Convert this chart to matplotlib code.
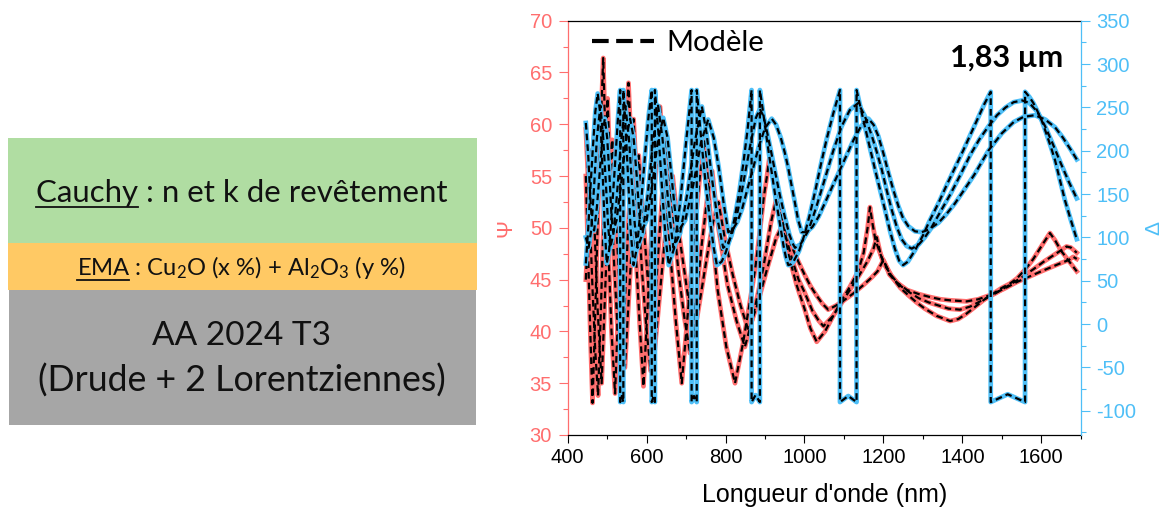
import matplotlib
matplotlib.use("Agg")
import matplotlib.pyplot as plt
from matplotlib.lines import Line2D
from matplotlib.patches import Rectangle
from matplotlib.ticker import MultipleLocator

plt.rcParams['font.family'] = ['Liberation Sans', 'DejaVu Sans']
plt.rcParams['axes.unicode_minus'] = False
plt.rcParams['mathtext.fontset'] = 'custom'
plt.rcParams['mathtext.rm'] = 'Lato'
plt.rcParams['mathtext.it'] = 'Lato:italic'
plt.rcParams['mathtext.bf'] = 'Lato:bold'

# ---------------- data ----------------
psi1_nm = [446,452,458,463,470,477,484,490,496,503,511,520,528,537,546,554,563,572,582,592,
           602,613,624,634,646,659,674,689,705,720,735,748,762,780,802,824,845,860,875,888,
           897,905,912,930,945,959,980,1000,1015,1031,1052,1073,1094,1115,1136,1150,1160,1166,1172,1180,
           1195,1221,1243,1263,1284,1305,1335,1369,1390,1410,1430,1453,1476,1500,1520,1538,1560,1580,1600,1622,
           1635,1650,1670,1690]
psi1 = [55,47,39,33.1,42,52,60,66.4,58,48,40,34.0,42,51,58,64.0,56,48,41,34.7,
        42,50,56,61.7,55,48,41,35.0,42,49,55,58.5,51,44,38.5,35.0,39,42.5,46,50,
        53,55,57.0,53,50,47.5,44.5,42.2,40.3,39.0,40.0,41.5,43.0,44.3,45.8,47.6,50.0,52.0,50.5,48.8,
        47.2,45.3,44.2,43.5,42.8,42.2,41.5,41.0,41.2,41.7,42.3,43.0,43.6,44.2,44.6,45.1,46.0,47.0,48.2,49.5,
        48.8,47.8,46.8,45.8]

psi2_nm = [446,455,463,470,477,484,491,496,501,508,517,526,535,544,552,560,567,577,588,599,
           610,620,631,641,651,665,680,695,710,725,740,754,766,782,805,828,849,870,895,915,
           930,950,970,985,1000,1020,1035,1048,1070,1090,1115,1140,1160,1175,1183,1192,1200,1220,1240,1265,
           1290,1315,1340,1365,1394,1420,1450,1485,1520,1550,1580,1605,1625,1645,1664,1675,1690]
psi2 = [59.5,52,44,38,33.8,42,51,57,62.5,55,47,40.5,35.0,42,49,55,60.5,53,46,40.5,
        36.2,42,48.5,54,58.5,52,46,41.5,37.9,43,48.5,53,55.5,50,44.5,41,38.5,41.5,46,50.5,
        53.0,49.5,46.8,45,43.8,42,41.1,40.5,41.4,42.5,44.0,45.5,46.8,48.0,49.1,47.6,46.6,45.4,44.5,43.8,
        43.2,42.8,42.5,42.2,42.1,42.4,43.0,43.7,44.5,45.2,46.0,46.7,47.2,47.7,48.2,48.1,47.6]

psi3_nm = [446,454,461,468,476,486,493,500,507,513,521,529,537,545,553,562,571,580,591,602,
           611,620,632,644,655,666,680,695,708,720,735,752,768,782,798,818,838,858,880,905,
           928,947,970,985,1000,1015,1030,1045,1060,1080,1100,1125,1150,1170,1185,1200,1208,1215,1235,1260,
           1290,1320,1345,1370,1411,1440,1470,1505,1540,1570,1600,1625,1650,1670,1681,1690]
psi3 = [45,52,57.5,50,42,35.0,42,49,55,58.5,52,46,40.5,36.5,42,48,53,57.0,51,45.5,
        41.5,38.0,43,48,52,55.0,50,46,42.5,39.5,43,47,50.5,52.5,49,45.5,42.5,40.1,42.5,46,
        49,50.5,48,46.7,45.5,44.4,43.5,42.7,42.1,42.5,43.0,43.7,44.5,45.2,45.8,46.9,46.2,45.5,44.7,44.0,
        43.6,43.3,43.1,43.0,42.9,43.1,43.5,44.1,44.8,45.3,45.8,46.2,46.6,46.9,47.2,47.0]

delta1_nm = [446,452,458,464,470,476,482,488,494,499,505,512,520,527,533,533,537,541,541,547,
             554,560,567,576,586,596,605,613,613,617,621,621,630,640,648,656,670,685,700,714,
             714,720,727,727,738,750,762,770,778,790,800,811,822,834,845,856,866,866,876,887,
             887,895,902,910,918,927,937,947,953,959,966,972,986,1000,1014,1028,1042,1056,1073,1090,
             1090,1111,1132,1132,1142,1153,1166,1179,1192,1204,1217,1229,1240,1250,1262,1280,1300,1318,1340,1360,
             1381,1402,1420,1440,1456,1472,1472,1515,1559,1559,1570,1580,1590,1601,1612,1624,1635,1648,1660,1675,
             1690]
delta1 = [70,110,160,205,245,266,245,180,110,70,85,130,185,235,270,-90,-83,-90,270,225,
          160,105,68,90,140,195,240,270,-90,-84,-90,270,220,150,100,68,88,140,210,270,
          -90,-83,-90,270,215,160,115,88,68,72,82,98,120,150,185,225,270,-90,-82,-90,
          270,245,222,196,172,145,118,90,77,68,69,72,84,103,127,155,185,213,243,270,
          -90,-83,-90,270,250,228,203,178,154,132,107,87,73,68,72,85,102,120,140,160,
          180,200,218,238,254,268,-90,-81,-90,268,262,255,246,235,221,205,189,165,143,120,
          98]

delta2_nm = [446,453,460,467,474,483,490,497,503,508,516,525,535,546,555,563,570,577,590,603,
             616,629,640,650,659,668,685,703,722,740,752,765,780,794,805,815,827,840,852,865,
             877,887,896,905,915,925,937,950,962,970,976,990,1010,1030,1052,1073,1094,1115,1136,1153,
             1170,1183,1196,1208,1221,1234,1246,1259,1272,1290,1305,1320,1345,1370,1395,1420,1443,1466,1488,1510,
             1530,1552,1570,1590,1610,1630,1650,1670,1690]
delta2 = [100,88,110,160,215,252,215,160,110,88,105,150,210,252,215,160,115,88,105,150,
          210,252,215,165,120,88,105,150,210,251,220,170,120,88,92,102,122,150,180,212,
          238,248,240,222,200,177,150,124,103,93,88,92,108,135,168,200,228,247,255,240,
          218,199,178,155,132,112,98,90,87,92,100,110,130,150,172,195,213,228,241,250,
          256,258,255,245,228,207,185,164,145]

delta3_nm = [446,452,457,462,467,474,482,489,494,500,506,511,515,524,535,547,558,567,575,581,
             586,600,614,628,642,653,662,671,679,698,718,738,756,770,783,795,807,818,830,842,
             855,870,885,900,917,928,940,950,958,966,975,984,993,1005,1020,1036,1052,1070,1090,1107,
             1125,1143,1162,1175,1187,1200,1212,1225,1238,1250,1263,1280,1297,1315,1340,1360,1381,1405,1430,1466,
             1500,1530,1555,1584,1610,1635,1655,1675,1690]
delta3 = [232,195,150,112,108,135,180,220,237,215,170,125,106,120,160,210,237,215,170,130,
          106,120,160,210,238,215,175,135,106,120,160,210,236,215,180,140,106,109,118,133,
          155,180,206,226,237,230,215,198,182,163,142,120,106,106,112,124,140,158,178,195,
          213,228,237,230,217,197,176,155,136,122,113,107,106,109,117,127,139,155,172,200,
          220,233,239,241,236,227,215,201,190]

x_ticks = [400, 600, 800, 1000, 1200, 1400, 1600]
psi_ticks = [30, 35, 40, 45, 50, 55, 60, 65, 70]
delta_ticks = [-100, -50, 0, 50, 100, 150, 200, 250, 300, 350]

layers = ["Cauchy : n et k de revêtement",
          "EMA : Cu$_\\mathregular{2}$O (x %) + Al$_\\mathregular{2}$O$_\\mathregular{3}$ (y %)",
          "AA 2024 T3",
          "(Drude + 2 Lorentziennes)"]

# ---------------- style ----------------
RED = '#FF6E6E'
BLUE = '#4EBFF7'
W, H = 1168, 512

fig = plt.figure(figsize=(W/100, H/100), dpi=100)

def fx(p):
    return p / W

def fy(p):
    return 1 - p / H

ax1 = fig.add_axes([fx(567.7), fy(435), fx(1080.7) - fx(567.7), fy(20.7) - fy(435)])
ax2 = ax1.twinx()

for nm, v in [(psi1_nm, psi1), (psi2_nm, psi2), (psi3_nm, psi3)]:
    ax1.plot(nm, v, color=RED, lw=3.4, solid_joinstyle='round', zorder=2)
for nm, v in [(psi1_nm, psi1), (psi2_nm, psi2), (psi3_nm, psi3)]:
    ax1.plot(nm, v, color='black', lw=1.6, dashes=(3, 1.8), zorder=3)
for nm, v in [(delta1_nm, delta1), (delta2_nm, delta2), (delta3_nm, delta3)]:
    ax2.plot(nm, v, color=BLUE, lw=3.4, solid_joinstyle='round', zorder=2)
for nm, v in [(delta1_nm, delta1), (delta2_nm, delta2), (delta3_nm, delta3)]:
    ax2.plot(nm, v, color='black', lw=1.6, dashes=(3, 1.8), zorder=3)

ax1.set_xlim(400, 1700)
ax1.set_ylim(30, 70)
ax2.set_ylim(-128, 350)
ax1.set_xticks(x_ticks)
ax1.xaxis.set_minor_locator(MultipleLocator(100))
ax1.set_yticks(psi_ticks)
ax1.yaxis.set_minor_locator(MultipleLocator(2.5))
ax2.set_yticks(delta_ticks)
ax2.yaxis.set_minor_locator(MultipleLocator(25))

TF = 14.5
ax1.tick_params(axis='x', which='major', direction='out', length=5.5, width=0.8, labelsize=TF, pad=4)
ax1.tick_params(axis='x', which='minor', direction='out', length=2.8, width=0.8)
ax1.tick_params(axis='y', which='major', direction='out', length=6.8, width=0.8, labelsize=TF, pad=4.5,
                colors=RED)
ax1.tick_params(axis='y', which='minor', direction='out', length=3.6, width=0.8, colors=RED)
ax2.tick_params(axis='y', which='major', direction='out', length=6.8, width=0.8, labelsize=TF, pad=4.5,
                colors=BLUE)
ax2.tick_params(axis='y', which='minor', direction='out', length=3.6, width=0.8, colors=BLUE)

ax1.spines['left'].set_color(RED)
ax1.spines['right'].set_visible(False)
ax2.spines['left'].set_visible(False)
ax2.spines['top'].set_visible(False)
ax2.spines['bottom'].set_visible(False)
ax2.spines['right'].set_color(BLUE)
for s in ax1.spines.values():
    s.set_linewidth(0.9)
ax2.spines['right'].set_linewidth(0.9)

ax1.set_xlabel("Longueur d'onde (nm)", fontsize=18)
ax1.xaxis.set_label_coords(0.5, -0.115)
ax1.set_ylabel('Ψ', fontsize=15.5, color=RED)
ax1.yaxis.set_label_coords(-0.099, 0.5)
ax2.set_ylabel('Δ', fontsize=15, color=BLUE)
ax2.yaxis.set_label_coords(1.125, 0.5)

# legend + annotation
h = Line2D([], [], color='black', lw=3.0, dashes=(4, 1.8))
ax2.legend([h], ['Modèle'], loc='center left', bbox_to_anchor=(0.047, 0.946), frameon=False,
           borderpad=0, borderaxespad=0, handlelength=2.12, handletextpad=0.45,
           prop={'family': 'Lato', 'size': 21})
ax2.text(0.9655, 0.911, '1,83 µm', transform=ax2.transAxes, ha='right', va='center',
         fontsize=22, fontweight='bold', family='Lato')

# ---------------- left layer diagram ----------------
fig.add_artist(Rectangle((fx(8), fy(243)), fx(477) - fx(8), fy(138) - fy(243), transform=fig.transFigure,
                         facecolor='#B0DDA2', edgecolor='none'))
fig.add_artist(Rectangle((fx(8), fy(290)), fx(477) - fx(8), fy(243) - fy(290), transform=fig.transFigure,
                         facecolor='#FFC964', edgecolor='none'))
fig.add_artist(Rectangle((fx(9), fy(425)), fx(476) - fx(9), fy(290) - fy(425), transform=fig.transFigure,
                         facecolor='#A6A6A6', edgecolor='none'))

renderer = fig.canvas.get_renderer()

def fit_text(t, target_w):
    w = t.get_window_extent(renderer).width
    t.set_fontsize(t.get_fontsize() * target_w / w)

specs = [(layers[0], 241.5, 202, 413), (layers[1], 241.5, 275, 329),
         (layers[2], 241.7, 345, 178), (layers[3], 242, 391.7, 410)]
texts = []
for s, cx, base, tw in specs:
    t = fig.text(fx(cx), fy(base), s, ha='center', va='baseline', family='Lato', fontsize=20, color='#111111')
    fit_text(t, tw)
    texts.append(t)

def underline(t, word, base_px, gap):
    bb = t.get_window_extent(renderer)
    tmp = fig.text(0, 0, word, family='Lato', fontsize=t.get_fontsize())
    w = tmp.get_window_extent(renderer).width
    tmp.remove()
    y = fy(base_px + gap)
    fig.add_artist(Line2D([bb.x0 / W, (bb.x0 + w) / W], [y, y], transform=fig.transFigure,
                          color='#111111', lw=1.3))

underline(texts[0], 'Cauchy', 202, 5)
underline(texts[1], 'EMA', 275, 4.5)

fig.savefig('out.png', dpi=100)
